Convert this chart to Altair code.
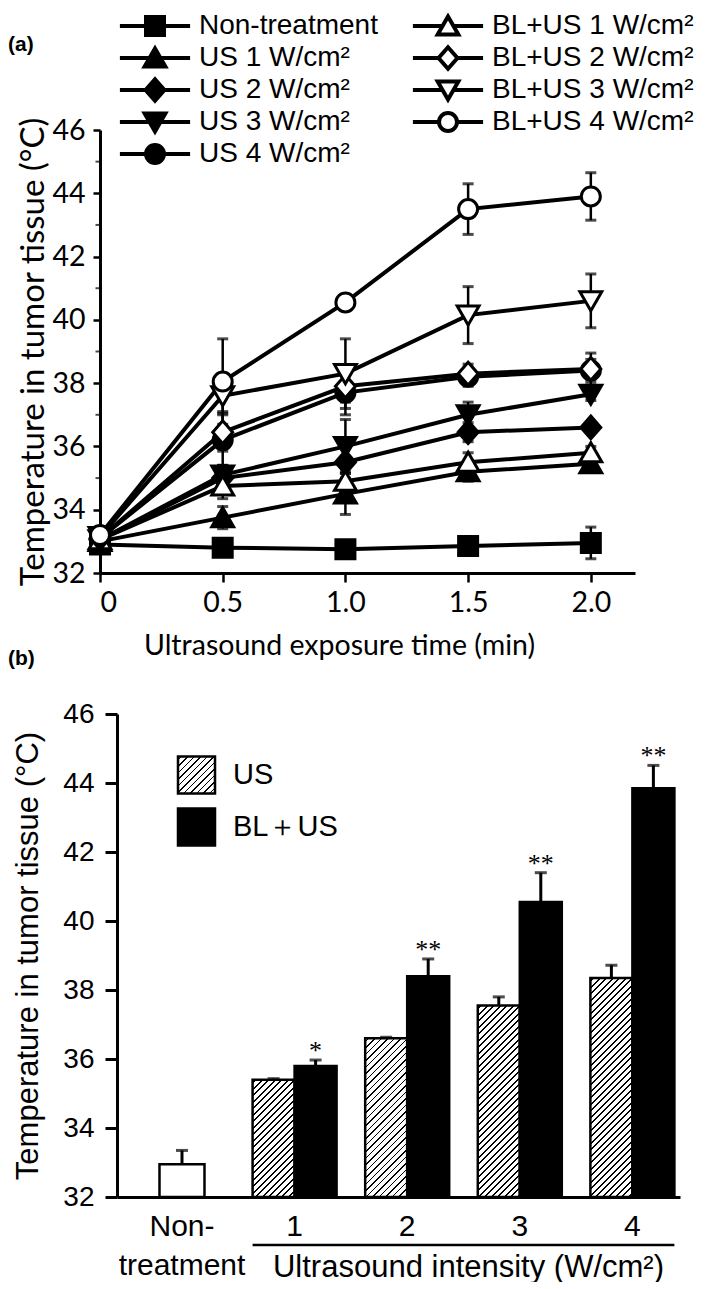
import math
import altair as alt
import pandas as pd

# ---------------- panel (a) data ----------------
time_min = [0.0, 0.5, 1.0, 1.5, 2.0]
series_names = ["Non-treatment", "US 1 W/cm²", "US 2 W/cm²", "US 3 W/cm²", "US 4 W/cm²",
                "BL+US 1 W/cm²", "BL+US 2 W/cm²", "BL+US 3 W/cm²", "BL+US 4 W/cm²"]
temp_non = [32.9, 32.8, 32.75, 32.85, 32.95]
temp_us1 = [33.0, 33.75, 34.5, 35.2, 35.45]
temp_us2 = [33.05, 35.0, 35.5, 36.45, 36.6]
temp_us3 = [33.05, 35.1, 36.0, 37.0, 37.65]
temp_us4 = [33.1, 36.2, 37.7, 38.2, 38.4]
temp_bl1 = [33.05, 34.75, 34.9, 35.5, 35.8]
temp_bl2 = [33.1, 36.45, 37.9, 38.3, 38.45]
temp_bl3 = [33.15, 37.6, 38.3, 40.15, 40.6]
temp_bl4 = [33.2, 38.05, 40.55, 43.5, 43.9]
sd_non = [0.05, 0.1, 0.1, 0.15, 0.5]
sd_us1 = [0.05, 0.35, 0.65, 0.3, 0.1]
sd_us2 = [0.05, 0.4, 0.5, 0.3, 0.1]
sd_us3 = [0.05, 0.3, 0.85, 0.4, 0.2]
sd_us4 = [0.05, 0.8, 0.7, 0.3, 0.35]
sd_bl1 = [0.05, 0.4, 0.3, 0.3, 0.2]
sd_bl2 = [0.05, 0.6, 0.5, 0.3, 0.5]
sd_bl3 = [0.05, 0.5, 1.1, 0.9, 0.85]
sd_bl4 = [0.05, 1.35, 0.1, 0.8, 0.75]
minor_ticks = [33, 35, 37, 39, 41, 43, 45]

# ---------------- panel (b) data ----------------
categories = ["NT", "1", "2", "3", "4"]
intensity = ["1", "2", "3", "4"]
bar_types = ["US", "BL+US"]
legend_b_labels = ["US", "BL＋US"]
nt_temp = [32.95]
nt_sd = [0.4]
us_temp = [35.4, 36.6, 37.55, 38.35]
us_sd = [0.03, 0.03, 0.25, 0.37]
bl_temp = [35.8, 38.4, 40.55, 43.85]
bl_sd = [0.17, 0.5, 0.85, 0.66]
bl_sig = ["*", "**", "**", "**"]

# ---------------- tables ----------------
temps = [temp_non, temp_us1, temp_us2, temp_us3, temp_us4, temp_bl1, temp_bl2, temp_bl3, temp_bl4]
sds = [sd_non, sd_us1, sd_us2, sd_us3, sd_us4, sd_bl1, sd_bl2, sd_bl3, sd_bl4]
rows = []
for name, tv, sv in zip(series_names, temps, sds):
    for t, v, s in zip(time_min, tv, sv):
        rows.append({"series": name, "time": t, "temp": v, "sd": s})
df_a = pd.DataFrame(rows)

rows = []
for i, c in enumerate(intensity):
    rows.append({"cat": c, "type": "US", "temp": us_temp[i], "sd": us_sd[i], "sig": ""})
    rows.append({"cat": c, "type": "BL+US", "temp": bl_temp[i], "sd": bl_sd[i], "sig": bl_sig[i]})
df_b = pd.DataFrame(rows)
df_nt = pd.DataFrame({"cat": ["NT"], "temp": nt_temp, "sd": nt_sd})

# ---------------- styles ----------------
FA = "Lato"
FB = "Liberation Sans"
K = 0.5523
CIRCLE = (f"M1,0C1,{K} {K},1 0,1C{-K},1 -1,{K} -1,0"
          f"C-1,{-K} {-K},-1 0,-1C{K},-1 1,{-K} 1,0Z")
SQUARE = "M-1,-1H1V1H-1Z"
TRI_UP = "M0,-1.05L1.15,0.95L-1.15,0.95Z"
DIAMOND = "M0,-1.2L1.05,0L0,1.2L-1.05,0Z"
TRI_DOWN = "M-1.15,-0.95L1.15,-0.95L0,1.05Z"
EDGE = {SQUARE: 1.0, TRI_UP: 0.6, DIAMOND: 1.05, TRI_DOWN: 0.6, CIRCLE: 1.0}
shape_of = dict(zip(series_names, [SQUARE, TRI_UP, DIAMOND, TRI_DOWN, CIRCLE,
                                   TRI_UP, DIAMOND, TRI_DOWN, CIRCLE]))
fill_of = dict(zip(series_names, ["black"] * 5 + ["white"] * 4))


def stubbed(p, reach=3.9):
    e = EDGE[p]
    return f"M{-reach},0H{-e}M{e},0H{reach}" + p


def hatch(w, h, gap=6.5, line=1.3):
    denom = w * w + h * h
    tmax = (w + h) * w / denom
    dt = gap * w / denom
    dl = line * math.sqrt(2) * w / denom
    stops = [alt.GradientStop(offset=0, color="white")]
    s = dt * 0.4
    while s < tmax:
        a = round(s, 6)
        b = round(min(s + dl, 1.0), 6)
        stops += [alt.GradientStop(offset=a, color="white"),
                  alt.GradientStop(offset=a, color="black"),
                  alt.GradientStop(offset=b, color="black"),
                  alt.GradientStop(offset=b, color="white")]
        s += dt
    stops.append(alt.GradientStop(offset=1, color="white"))
    return alt.LinearGradient(gradient="linear", stops=stops, x1=0, y1=0, x2=1, y2=h / w)


# ---------------- panel (a) ----------------
W_A, H_A = 535, 443
xa = alt.Scale(domain=[0, 2.18], nice=False, zero=False)
ya = alt.Scale(domain=[32, 46], nice=False, zero=False)
ax_xa = alt.Axis(values=time_min, labelExpr="datum.value == 0 ? '0' : format(datum.value, '.1f')",
                 title="Ultrasound exposure time (min)", grid=False, domainColor="black", domainWidth=3,
                 tickColor="black", tickWidth=2.5, tickSize=9, labelFont=FA, labelFontSize=28.5,
                 labelColor="black", labelPadding=6, titleFont=FA, titleFontSize=28.5,
                 titleFontWeight="normal", titleColor="black", titleX=239, titleY=72,
                 titleBaseline="middle")
ax_ya = alt.Axis(values=list(range(32, 47, 2)), title="Temperature in tumor tissue (°C)", grid=False,
                 domainColor="black", domainWidth=3, tickColor="black", tickWidth=2.5, tickSize=7,
                 labelFont=FA, labelFontSize=28.5, labelColor="black", labelPadding=8,
                 titleFont=FA, titleFontSize=33, titleFontWeight="normal", titleColor="black",
                 titleX=-67, titleBaseline="middle")

X_A = alt.X("time:Q", scale=xa, axis=ax_xa)
Y_A = alt.Y("temp:Q", scale=ya, axis=ax_ya)
base_a = alt.Chart(df_a).transform_calculate(lo="datum.temp - datum.sd", hi="datum.temp + datum.sd")

lines_a = base_a.mark_line(color="black", strokeWidth=4).encode(x=X_A, y=Y_A, detail="series:N")
err_a = base_a.mark_rule(color="black", strokeWidth=2.5).encode(
    x=alt.X("time:Q", scale=xa), y=alt.Y("lo:Q", scale=ya), y2="hi:Q")
cap_hi_a = base_a.mark_tick(orient="horizontal", size=11, thickness=3, color="black").encode(
    x=alt.X("time:Q", scale=xa), y=alt.Y("hi:Q", scale=ya))
cap_lo_a = base_a.mark_tick(orient="horizontal", size=11, thickness=3, color="black").encode(
    x=alt.X("time:Q", scale=xa), y=alt.Y("lo:Q", scale=ya))
minor_a = alt.Chart(pd.DataFrame({"m": minor_ticks})).mark_tick(
    orient="horizontal", size=5, thickness=2, color="black", xOffset=-2).encode(
    x=alt.datum(0, scale=xa), y=alt.Y("m:Q", scale=ya))
points_a = base_a.mark_point(filled=True, size=361, opacity=1, stroke="black", strokeWidth=3).encode(
    x=alt.X("time:Q", scale=xa), y=alt.Y("temp:Q", scale=ya),
    shape=alt.Shape("series:N", scale=alt.Scale(domain=series_names,
                                                range=[shape_of[s] for s in series_names]), legend=None),
    fill=alt.Fill("series:N", scale=alt.Scale(domain=series_names,
                                              range=[fill_of[s] for s in series_names]), legend=None))

# legend of panel (a): two columns, symbol with line stubs + label
legend_a = []
for k, name in enumerate(series_names):
    col, row = (0, k) if k < 5 else (1, k - 5)
    sx = 55 + 293 * col
    sy = -104 + 32 * row
    one = alt.Chart(pd.DataFrame({"t": [name]}))
    legend_a.append(one.mark_point(shape=stubbed(shape_of[name]), size=324, fill=fill_of[name],
                                   filled=True, stroke="black", strokeWidth=4, opacity=1).encode(
        x=alt.value(sx), y=alt.value(sy)))
    legend_a.append(one.mark_text(font=FB, fontSize=28, align="left", baseline="middle",
                                  color="black").encode(
        text="t:N", x=alt.value(sx + 44), y=alt.value(sy)))
label_a = alt.Chart(pd.DataFrame({"t": ["(a)"]})).mark_text(
    font=FB, fontWeight="bold", fontSize=21, align="left", baseline="middle", color="black").encode(
    text="t:N", x=alt.value(-92), y=alt.value(-85))

chart_a = alt.layer(lines_a, err_a, cap_hi_a, cap_lo_a, minor_a, points_a, *legend_a,
                    label_a).properties(width=W_A, height=H_A)

# ---------------- panel (b) ----------------
# plot area shares its left edge with panel (a); the y axis sits 17 px inside it
W_B, H_B = 580, 483
AX_SHIFT = 17
PX_B = H_B / 14.0
P_IN, P_OUT, ALIGN = 0.254, 0.2025, 0.877
STEP = W_B / (5 - P_IN + 2 * P_OUT)
xb = alt.Scale(domain=categories, paddingInner=P_IN, paddingOuter=P_OUT, align=ALIGN)
yb = alt.Scale(domain=[32, 46], nice=False, zero=False)
xo = alt.Scale(domain=bar_types, paddingInner=0, paddingOuter=0)
ax_xb = alt.Axis(title="Ultrasound intensity (W/cm²)", labelAngle=0, ticks=False,
                 labelExpr="datum.value == 'NT' ? ['Non-', 'treatment'] : datum.value",
                 domainColor="black", domainWidth=3, domainDash=[0, AX_SHIFT, 2000],
                 labelFont=FB, labelFontSize=30, labelColor="black",
                 labelPadding=14, labelLineHeight=39, labelBaseline="top", titleFont=FB, titleFontSize=31,
                 titleFontWeight="normal", titleColor="black", titleX=368, titleY=70,
                 titleBaseline="middle", titleAlign="center", grid=False)
ax_yb = alt.Axis(values=list(range(32, 47, 2)), title="Temperature in tumor tissue (°C)", grid=False,
                 offset=-AX_SHIFT,
                 domainColor="black", domainWidth=3, tickColor="black", tickWidth=3, tickSize=12,
                 labelFont=FB, labelFontSize=28, labelColor="black", labelPadding=11,
                 titleFont=FB, titleFontSize=31, titleFontWeight="normal", titleColor="black",
                 titleX=-89, titleBaseline="middle")
X_B = alt.X("cat:N", scale=xb, axis=ax_xb)
Y_B = alt.Y("temp:Q", scale=yb, axis=ax_yb)
XO = alt.XOffset("type:N", scale=xo)
bw = STEP * (1 - P_IN) / 2.0

nt_bar = alt.Chart(df_nt).mark_bar(size=45, fill="white", stroke="black", strokeWidth=2.5).encode(
    x=X_B, y=Y_B, y2=alt.datum(32))
nt_err = alt.Chart(df_nt).transform_calculate(hi="datum.temp + datum.sd").mark_rule(
    color="black", strokeWidth=3).encode(x=alt.X("cat:N", scale=xb), y=alt.Y("temp:Q", scale=yb), y2="hi:Q")
nt_cap = alt.Chart(df_nt).transform_calculate(hi="datum.temp + datum.sd").mark_tick(
    orient="horizontal", size=12, thickness=3, color="black").encode(
    x=alt.X("cat:N", scale=xb), y=alt.Y("hi:Q", scale=yb))

base_b = alt.Chart(df_b).transform_calculate(hi="datum.temp + datum.sd")
us_bars = []
for i, c in enumerate(intensity):
    us_bars.append(base_b.transform_filter(f"datum.type == 'US' && datum.cat == '{c}'").mark_bar(
        fill=hatch(bw, (us_temp[i] - 32) * PX_B), stroke="black", strokeWidth=2.5).encode(
        x=alt.X("cat:N", scale=xb), xOffset=XO, y=alt.Y("temp:Q", scale=yb), y2=alt.datum(32)))
bl_bars = base_b.transform_filter("datum.type == 'BL+US'").mark_bar(
    fill="black", stroke="black", strokeWidth=2.5).encode(
    x=alt.X("cat:N", scale=xb), xOffset=XO, y=alt.Y("temp:Q", scale=yb), y2=alt.datum(32))
err_b = base_b.mark_rule(color="black", strokeWidth=3).encode(
    x=alt.X("cat:N", scale=xb), xOffset=XO, y=alt.Y("temp:Q", scale=yb), y2="hi:Q")
cap_b = base_b.mark_tick(orient="horizontal", size=12, thickness=3, color="black").encode(
    x=alt.X("cat:N", scale=xb), xOffset=XO, y=alt.Y("hi:Q", scale=yb))
sig_b = base_b.mark_text(font="Liberation Serif", fontSize=26, baseline="alphabetic", dy=-1,
                         color="black").encode(
    x=alt.X("cat:N", scale=xb), xOffset=XO, y=alt.Y("hi:Q", scale=yb), text="sig:N")
underline_b = alt.Chart(pd.DataFrame({"k": [0]})).mark_rule(color="black", strokeWidth=2.5).encode(
    x=alt.X(datum="1", scale=xb, bandPosition=0), x2=alt.X2(datum="4", bandPosition=1),
    y=alt.value(H_B + 48))

# legend of panel (b): symbol + label per entry
leg_fills = [hatch(37, 37), "black"]
legend_b = []
for k, (lab, fl) in enumerate(zip(legend_b_labels, leg_fills)):
    one = alt.Chart(pd.DataFrame({"t": [lab]}))
    legend_b.append(one.mark_point(shape="square", size=1369, fill=fl, stroke="black", strokeWidth=2.5,
                                   opacity=1, filled=True).encode(
        x=alt.value(96.5), y=alt.value(61 + 52 * k)))
    legend_b.append(one.mark_text(font=FB, fontSize=29, align="left", baseline="middle",
                                  color="black").encode(
        text="t:N", x=alt.value(133), y=alt.value(61 + 52 * k)))
label_b = alt.Chart(pd.DataFrame({"t": ["(b)"]})).mark_text(
    font=FB, fontWeight="bold", fontSize=21, align="left", baseline="middle", color="black").encode(
    text="t:N", x=alt.value(-92), y=alt.value(-55))

chart_b = alt.layer(nt_bar, nt_err, nt_cap, *us_bars, bl_bars, err_b, cap_b, sig_b, underline_b,
                    *legend_b, label_b).properties(width=W_B, height=H_B)

chart = alt.vconcat(chart_a, chart_b, spacing=-12).properties(
    padding={"left": 0, "top": 0, "right": 0, "bottom": 0}
).configure_view(strokeWidth=0)

chart.save("out.html", embed_options={"renderer": "svg", "actions": False})
